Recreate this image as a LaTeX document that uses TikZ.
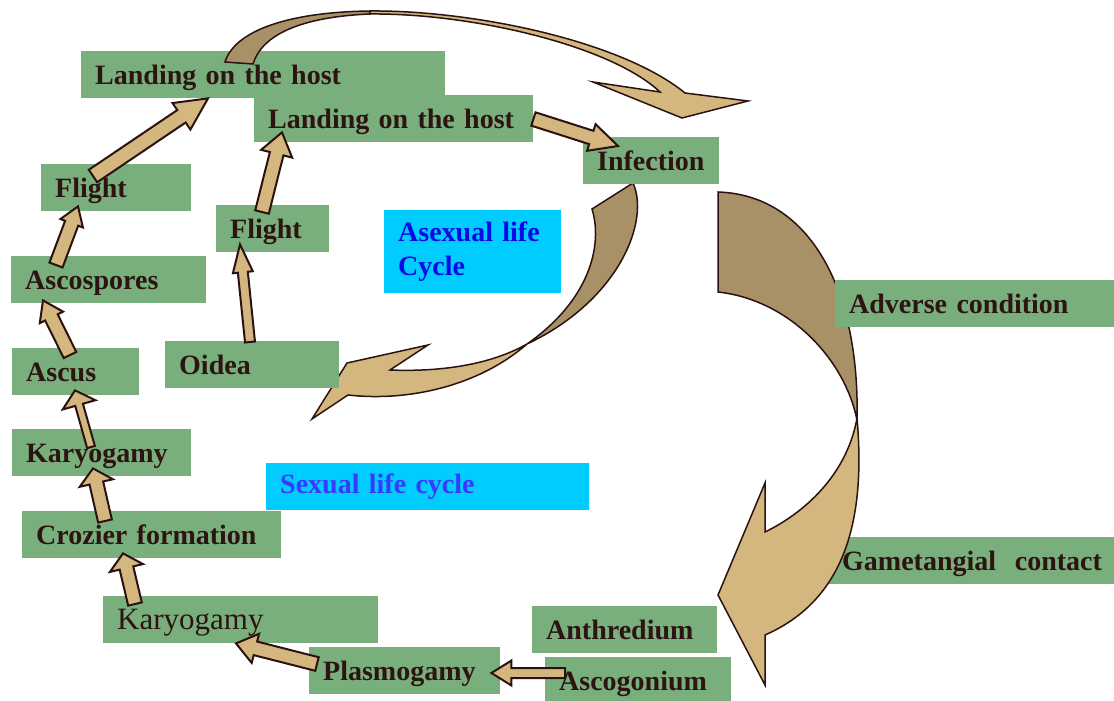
\documentclass[tikz,border=0pt]{standalone}
\usepackage{fontspec}
\setmainfont{Liberation Serif}
\usepackage{tikz}
\usetikzlibrary{calc}
\usepackage{xcolor}
\pgfdeclarelayer{background}
\pgfsetlayers{background,main}
\definecolor{stagegreen}{HTML}{79AF7D}
\definecolor{stagetext}{HTML}{2D1412}
\definecolor{arrowtan}{HTML}{D4B77F}
\definecolor{banddark}{HTML}{A89166}
\definecolor{arrowedge}{HTML}{2B1210}
\definecolor{cyclecyan}{HTML}{00CCFF}
\definecolor{asexblue}{HTML}{0A0AE8}
\definecolor{sexblue}{HTML}{3A3AFF}
\tikzstyle{stagebox} = [fill=stagegreen, text=stagetext, anchor=north west,
    font=\bfseries\fontsize{28}{34}\selectfont, align=left,
    inner xsep=14pt, inner ysep=8pt, text height=25pt, text depth=6pt]
\tikzstyle{cyclebox} = [fill=cyclecyan, anchor=north west, align=left,
    font=\bfseries\fontsize{28}{34}\selectfont, inner xsep=14pt, inner ysep=0pt]
\tikzstyle{blockline} = [fill=arrowtan, draw=arrowedge, line width=2pt, line join=miter]
\tikzstyle{bandback} = [fill=banddark, draw=arrowedge, line width=1.5pt, line join=miter]
\tikzstyle{bandfront} = [fill=arrowtan, draw=arrowedge, line width=1.5pt, line join=miter]
% block arrow: from, to, shaft half width, head half width, head length
\newcommand{\blockarrow}[5]{%
    \coordinate (ba-s) at #1;
    \coordinate (ba-e) at #2;
    \coordinate (ba-h) at ($(ba-e)!#5!(ba-s)$);
    \draw[blockline] ($(ba-s)!#3!90:(ba-e)$) -- ($(ba-h)!#3!-90:(ba-s)$)
        -- ($(ba-h)!#4!-90:(ba-s)$) -- (ba-e) -- ($(ba-h)!#4!90:(ba-s)$)
        -- ($(ba-h)!#3!90:(ba-s)$) -- ($(ba-s)!#3!-90:(ba-e)$) -- cycle;
}

\begin{document}
\begin{tikzpicture}[x=1pt, y=-1pt]
    \useasboundingbox (0,0) rectangle (1114,701);

    % big arrow on the right (under Adverse condition)
    \draw[bandback] (718,192) .. controls (810,195) and (860,290) .. (857,420)
        .. controls (845,360) and (790,300) .. (718,292) -- cycle;
    \draw[bandfront] (857,418) .. controls (866,520) and (845,600) .. (765,635)
        -- (765,685) -- (718,595) -- (765,483) -- (765,532)
        .. controls (810,510) and (848,470) .. (857,418) -- cycle;

    % asexual cycle arrow (under Oidea)
    \draw[bandback] (592,209) -- (633,183) .. controls (650,220) and (620,300) .. (527,344)
        .. controls (590,300) and (603,245) .. (592,209) -- cycle;
    \draw[bandfront] (527,344) .. controls (490,365) and (440,372) .. (390,370)
        -- (428,345) -- (347,363) -- (312,419) -- (348,395)
        .. controls (410,402) and (480,385) .. (527,344) -- cycle;

    % stages
    \node[stagebox, text width=336pt] (landA) at (81,51) {Landing on the host};
    \node[stagebox, text width=251pt] (landB) at (254,95) {Landing on the host};
    \node[stagebox, text width=108pt] (infection) at (583,137) {Infection};
    \node[stagebox, text width=122pt] (flightA) at (41,164) {Flight};
    \node[stagebox, text width=85pt] (flightB) at (216,205) {Flight};
    \node[stagebox, text width=167pt] (ascospores) at (11,256) {Ascospores};
    \node[stagebox, text width=99pt] (ascus) at (12,348) {Ascus};
    \node[stagebox, text width=146pt] (oidea) at (165,341) {Oidea};
    \node[stagebox, text width=151pt] (karyoA) at (12,429) {Karyogamy};
    \node[stagebox, text width=231pt] (crozier) at (22,511) {Crozier formation};
    \node[stagebox, text width=247pt, font=\fontsize{31}{34}\selectfont] (karyoB) at (103,596) {Karyogamy};
    \node[stagebox, text width=163pt] (plasmo) at (309,647) {Plasmogamy};
    \node[stagebox, text width=157pt] (anthre) at (532,606) {Anthredium};
    \node[stagebox, text width=158pt] (ascogon) at (545,657) {Ascogonium};
    \node[stagebox, text width=251pt] (adverse) at (835,280) {Adverse condition};
    \node[stagebox, text width=290pt, fill=none] (gamet) at (828,537) {Gametangial\ \ contact};
    \begin{pgfonlayer}{background}
        \fill[stagegreen] (gamet.north west) rectangle (gamet.south east);
    \end{pgfonlayer}

    \node[cyclebox, text width=149pt, minimum height=83pt, text=asexblue] (asexual) at (384,210) {Asexual life\\Cycle};
    \node[cyclebox, text width=295pt, minimum height=47pt, text=sexblue] (sexual) at (266,463) {Sexual life cycle};

    % top arrow from the host back round to infection
    \draw[bandback] (225,62) .. controls (235,30) and (290,12) .. (370,11)
        -- (370,14) .. controls (300,17) and (262,35) .. (253,64) -- cycle;
    \draw[bandfront] (370,11) .. controls (470,10) and (620,40) .. (685,93)
        -- (748,101) -- (682,118) -- (593,82) -- (660,92)
        .. controls (610,45) and (470,13) .. (370,14) -- cycle;

    % stage arrows
    \blockarrow{($(ascospores.north west)+(45,9)$)}{($(flightA.south west)+(37,-5)$)}{7pt}{12pt}{18pt}
    \blockarrow{($(ascus.north west)+(58,7)$)}{($(ascospores.south west)+(32,-3)$)}{7pt}{13pt}{19pt}
    \blockarrow{($(karyoA.north west)+(79,18)$)}{($(ascus.south west)+(63,-5)$)}{4pt}{17pt}{15pt}
    \blockarrow{($(crozier.north west)+(83,10)$)}{($(karyoA.south west)+(81,-8)$)}{7pt}{17pt}{15pt}
    \blockarrow{($(karyoB.north west)+(32,8)$)}{($(crozier.south west)+(101,-5)$)}{7pt}{17pt}{15pt}
    \blockarrow{($(oidea.north west)+(85,1)$)}{($(flightB.south west)+(24,-8)$)}{5pt}{10pt}{28pt}
    \blockarrow{($(flightB.north west)+(46,7)$)}{($(landB.south west)+(28,-10)$)}{7pt}{16pt}{22pt}
    \blockarrow{($(flightA.north west)+(52,12)$)}{($(landA.south west)+(127,0)$)}{7.5pt}{16pt}{32pt}
    \blockarrow{($(landB.north east)+(0,24)$)}{($(infection.north west)+(35,9)$)}{7pt}{14pt}{28pt}
    \blockarrow{($(plasmo.north west)+(8,17)$)}{($(karyoB.south west)+(133,0)$)}{7pt}{15pt}{20pt}
    \blockarrow{($(ascogon.north west)+(20,16)$)}{($(plasmo.north east)+(-9,26)$)}{5pt}{12.5pt}{20pt}
\end{tikzpicture}
\end{document}
